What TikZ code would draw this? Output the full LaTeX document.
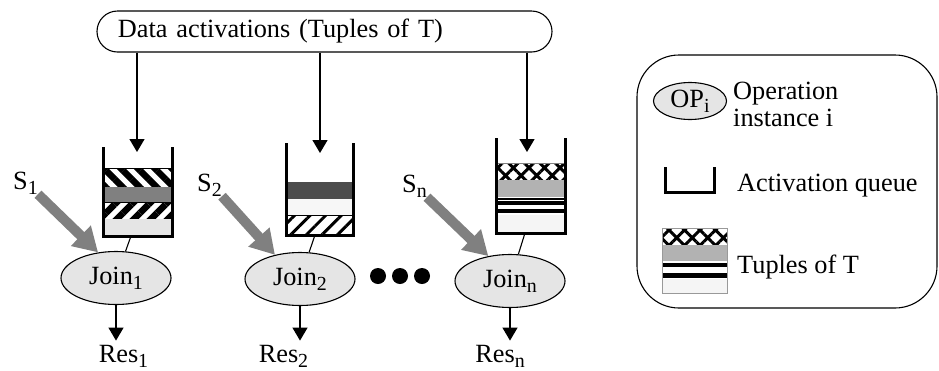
\documentclass[tikz,border=0pt]{standalone}
\usepackage{fontspec}
\setmainfont{Liberation Serif}
\usepackage{tikz}
\usetikzlibrary{arrows.meta, shapes.geometric, patterns.meta}

\newcommand{\indice}[1]{\raisebox{-5bp}{\fontsize{20}{20}\selectfont #1}}

\tikzset{
	fleche/.style={-{Triangle[width=15bp,length=13bp]}, line width=1.3bp},
	grosse/.style={-{Triangle[width=27bp,length=24bp]}, line width=10bp, draw=black!50},
	mur/.style={line width=3bp},
	operateur/.style={draw, ellipse, fill=black!10, line width=1.1bp, minimum width=110bp, minimum height=53bp, inner sep=0pt},
	lbl/.style={inner sep=0pt},
}

\begin{document}
\begin{tikzpicture}[x=1bp, y=-1bp, font=\fontsize{26.4}{27}\selectfont]
	\useasboundingbox (0,0) rectangle (939,370);

	\node[draw, rounded corners=20.5bp, line width=1.1bp, minimum width=455bp, minimum height=41bp, inner xsep=21bp, text width=413bp, align=left] (data) at (324.5, 31.5) {Data activations (Tuples of T)};

	%files d'attente
	\draw[line width=0.8bp, pattern={Lines[angle=-45,distance=12bp,line width=6.5bp]}] (103,168) rectangle (172,187);
	\fill[black!50] (103,187) rectangle (172,202);
	\draw[line width=0.8bp, pattern={Lines[angle=45,distance=12bp,line width=6.5bp]}] (103,202) rectangle (172,219);
	\fill[black!10] (103,219) rectangle (172,236);
	\draw[mur] (103,147) -- (103,236) -- (172,236) -- (172,147);

	\fill[black!70] (286,182) rectangle (353,199);
	\fill[black!3] (286,199) rectangle (353,215);
	\draw[line width=0.8bp, pattern={Lines[angle=45,distance=11bp,line width=3bp]}] (286,215) rectangle (353,235);
	\draw[mur] (286,143) -- (286,235) -- (353,235) -- (353,143);

	\draw[line width=0.6bp, black!50, pattern={Hatch[angle=45,distance=11bp,line width=3bp]}] (496,163) rectangle (565,180);
	\fill[black!30] (496,180) rectangle (565,197);
	\fill (496,198) rectangle (565,200);
	\fill (496,201) rectangle (565,205);
	\fill (496,209) rectangle (565,213);
	\fill[black!4] (496,215) rectangle (565,233);
	\draw[mur] (496,138) -- (496,233) -- (565,233) -- (565,138);

	\coordinate (in1) at (137,152);
	\coordinate (in2) at (320,153);
	\coordinate (inn) at (527,152);
	\draw[fleche] (data.south -| in1) to (in1);
	\draw[fleche] (data.south -| in2) to (in2);
	\draw[fleche] (data.south -| inn) to (inn);

	%operateurs
	\node[operateur] (join1) at (116,278) {Join\indice{1}};
	\node[operateur] (join2) at (300,279) {Join\indice{2}};
	\node[operateur] (joinn) at (510,281) {Join\indice{n}};

	\coordinate (qb1) at (131,236);
	\coordinate (qb2) at (315,235);
	\coordinate (qbn) at (525,233);
	\draw[line width=1.1bp] (qb1) to (join1);
	\draw[line width=1.1bp] (qb2) to (join2);
	\draw[line width=1.1bp] (qbn) to (joinn);

	\node[lbl, anchor=base] (res1) at (123.5,362) {Res\indice{1}};
	\node[lbl, anchor=base] (res2) at (283.5,362) {Res\indice{2}};
	\node[lbl, anchor=base] (resn) at (500,362) {Res\indice{n}};
	\draw[fleche, shorten >=4bp] (join1.south) to (join1.south |- res1.north);
	\draw[fleche, shorten >=4bp] (join2.south) to (join2.south |- res2.north);
	\draw[fleche, shorten >=4bp] (joinn.south) to (joinn.south |- resn.north);

	\node[lbl, anchor=base west] (s1) at (13,189) {S\indice{1}};
	\node[lbl, anchor=base west] (s2) at (197,191) {S\indice{2}};
	\node[lbl, anchor=base west] (sn) at (402,192) {S\indice{n}};
	\draw[grosse] (s1.south east) to (join1.125);
	\draw[grosse] (s2.south east) to (join2.136);
	\draw[grosse] (sn.south east) to (joinn.131);

	\node[circle, fill, minimum size=16bp, inner sep=0pt] (p1) at (378,276) {};
	\node[circle, fill, minimum size=16bp, inner sep=0pt] (p2) at (400,276) {};
	\node[circle, fill, minimum size=16bp, inner sep=0pt] (p3) at (422,276) {};

	%legende
	\node[draw, rounded corners=42bp, line width=1.1bp, minimum width=300bp, minimum height=253bp] (legende) at (787,181.5) {};
	\node[draw, ellipse, fill=black!10, line width=1.1bp, minimum width=73bp, minimum height=37bp, inner sep=0pt] (op) at (690,101) {OP\indice{i}};
	\node[lbl, anchor=west, align=left] (optxt) at (733,104.5) {Operation\\instance i};

	\draw[mur] (665,167) -- (665,192) -- (714,192) -- (714,167);
	\node[lbl, anchor=base west] (filetxt) at (737,191) {Activation queue};

	\fill[pattern={Hatch[angle=45,distance=11bp,line width=3bp]}] (662,228) rectangle (727,245);
	\fill[black!30] (662,245) rectangle (727,261);
	\fill (662,263) rectangle (727,267);
	\fill (662,273) rectangle (727,278);
	\fill[black!4] (662,279) rectangle (727,293);
	\draw[black!40, line width=0.8bp] (662,228) rectangle (727,293);
	\node[lbl, anchor=base west] (tuptxt) at (737,273) {Tuples of T};
\end{tikzpicture}
\end{document}
